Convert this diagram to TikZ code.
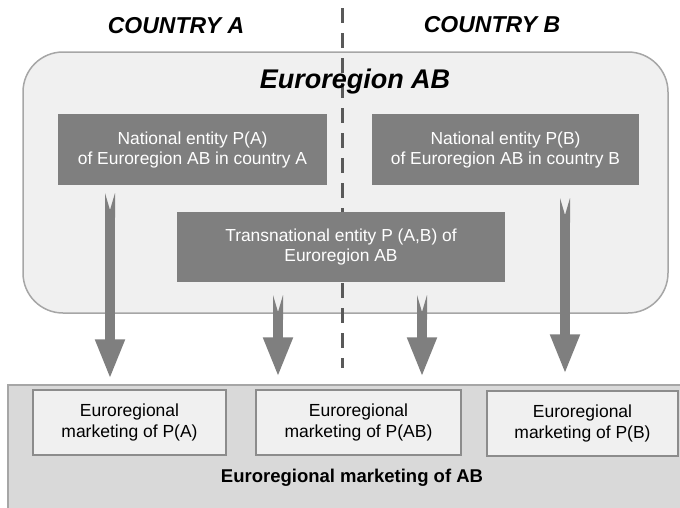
\documentclass[tikz,border=0pt]{standalone}
\usepackage{fontspec}
\setmainfont{Liberation Sans}
\usetikzlibrary{arrows.meta}
\definecolor{entityfill}{HTML}{7F7F7F}
\definecolor{regionfill}{HTML}{F0F0F0}
\definecolor{regionedge}{HTML}{A6A6A6}
\definecolor{marketfill}{HTML}{D9D9D9}
\definecolor{borderline}{HTML}{595959}
\begin{document}
\begin{tikzpicture}[
		x=1pt, y=-1pt,
		country/.style={font=\fontsize{23}{26}\selectfont\bfseries\itshape},
		entity/.style={fill=entityfill, text=white, font=\fontsize{17.4}{20}\selectfont, align=center, inner sep=0pt, minimum height=71pt},
		marketing/.style={draw=entityfill!90, line width=1.2pt, fill=regionfill, font=\fontsize{17.5}{21.5}\selectfont, align=center, inner sep=0pt, minimum height=65pt},
		flow/.style={draw=entityfill, line width=10pt, {Triangle Cap[reversed, length=17pt]}-{Triangle[length=40pt, width=27pt]}},
		]
	\useasboundingbox (0,0) rectangle (680,507);
	\draw[regionedge, line width=1.5pt, fill=regionfill, rounded corners=40pt] (23,52) rectangle (668,313);
	\draw[regionedge, line width=1.5pt, fill=marketfill] (8,385) rectangle (700,530);
	\draw[borderline, line width=3pt, dash pattern=on 15pt off 10pt] (342,8) -- (342,368);
	\node[country] (ca) at (176,26) {COUNTRY A};
	\node[country] (cb) at (492,25) {COUNTRY B};
	\node[font=\fontsize{27}{30}\selectfont\bfseries\itshape] (ab) at (355,82) {Euroregion AB};
	\node[entity, minimum width=269pt] (pa) at (192.5,149.5) {National entity P(A)\\of Euroregion AB in country A};
	\node[entity, minimum width=267pt] (pb) at (505.5,149.5) {National entity P(B)\\of Euroregion AB in country B};
	\node[entity, minimum width=328pt, minimum height=70pt] (pab) at (341,247) {Transnational entity P (A,B) of\\Euroregion AB};
	\node[marketing, minimum width=193pt] (ma) at (129.5,422.5) {Euroregional\\marketing of P(A)};
	\node[marketing, minimum width=205pt] (mab) at (358.5,422.5) {Euroregional\\marketing of P(AB)};
	\node[marketing, minimum width=191pt] (mb) at (582.5,423.5) {Euroregional\\marketing of P(B)};
	\node[font=\fontsize{18.5}{21}\selectfont\bfseries] (all) at (352,478) {Euroregional marketing of AB};
	\coordinate (fa) at (110,193);
	\coordinate (fab1) at (278,295);
	\coordinate (fab2) at (422,295);
	\coordinate (fb) at (565,198);
	\draw[flow, shorten >=10pt] (fa) -- (fa |- ma.north);
	\draw[flow, shorten >=12pt] (fab1) -- (fab1 |- mab.north);
	\draw[flow, shorten >=12pt] (fab2) -- (fab2 |- mab.north);
	\draw[flow, shorten >=16pt] (fb) -- (fb |- mb.north);
\end{tikzpicture}
\end{document}
